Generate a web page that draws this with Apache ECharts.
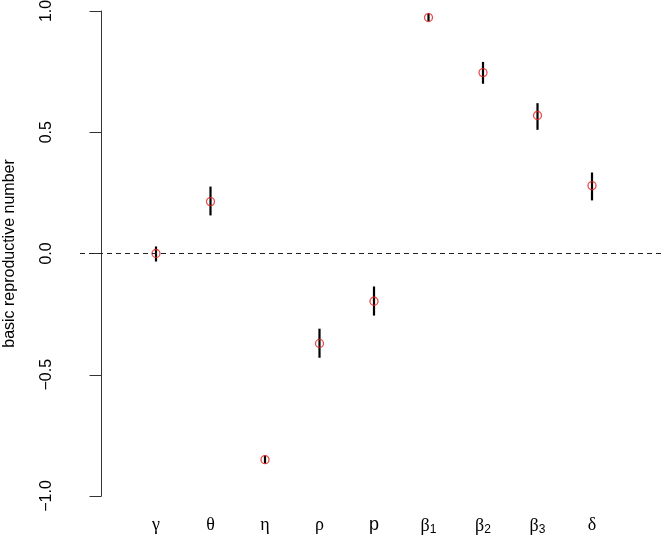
<!DOCTYPE html>
<html>
<head>
<meta charset="utf-8">
<script src="https://cdn.jsdelivr.net/npm/echarts@6/dist/echarts.min.js"></script>
<style>html,body{margin:0;padding:0;background:#fff;}</style>
</head>
<body>
<div id="main" style="width:664px;height:553px;"></div>
<script type="text/javascript">
// parameter labels and estimates
var params = ['γ', 'θ', 'η', 'ρ', 'p', 'β1', 'β2', 'β3', 'δ'];
var xPos = [1, 2, 3, 4, 5, 6, 7, 8, 9];
var estimate = [0.0, 0.214, -0.85, -0.371, -0.197, 0.973, 0.746, 0.569, 0.28];
var lower = [-0.033, 0.157, -0.866, -0.43, -0.256, 0.958, 0.70, 0.51, 0.219];
var upper = [0.029, 0.276, -0.833, -0.31, -0.136, 0.99, 0.79, 0.62, 0.334];

var points = xPos.map(function (x, i) { return [x, estimate[i]]; });
var bars = xPos.map(function (x, i) { return [x, lower[i], upper[i]]; });

var myChart = echarts.init(document.getElementById('main'));
var option = {
    animation: false,
    grid: { left: 80, right: 0, top: 11, bottom: 57, containLabel: false, outerBoundsMode: 'none' },
    xAxis: {
        type: 'value',
        min: -0.3945,
        max: 10.321,
        splitLine: { show: false },
        axisLine: { show: false },
        axisTick: { show: false },
        axisLabel: {
            customValues: xPos,
            margin: 20,
            formatter: function (v) {
                var s = params[Math.round(v) - 1];
                if (!s) return '';
                if (s.length > 1) return '{g|' + s[0] + '}{s|' + s.slice(1) + '}';
                if (s === 'p') return '{p|p}';
                return '{g|' + s + '}';
            },
            rich: {
                g: { fontFamily: 'Liberation Serif', fontSize: 18, color: '#000' },
                p: { fontFamily: 'Liberation Sans', fontSize: 18, color: '#000' },
                s: { fontFamily: 'Liberation Sans', fontSize: 12, color: '#000', padding: [8, 0, 0, 0] }
            }
        }
    },
    yAxis: {
        type: 'value',
        min: -1,
        max: 1,
        interval: 0.5,
        name: 'basic reproductive number',
        nameLocation: 'middle',
        nameRotate: 90,
        nameGap: 62,
        nameTextStyle: { fontFamily: 'Liberation Sans', fontSize: 16, color: '#000' },
        splitLine: { show: false },
        axisLine: { show: true, lineStyle: { color: '#333', width: 1 } },
        axisTick: { show: true, length: 12, lineStyle: { color: '#333' } },
        axisLabel: {
            rotate: 90,
            margin: 25,
            fontFamily: 'Liberation Sans',
            fontSize: 16,
            color: '#000',
            formatter: function (v) {
                return (v < 0 ? '\u2212' : '') + Math.abs(v).toFixed(1);
            }
        }
    },
    series: [
        {
            type: 'custom',
            data: bars,
            renderItem: function (params, api) {
                var p1 = api.coord([api.value(0), api.value(1)]);
                var p2 = api.coord([api.value(0), api.value(2)]);
                return {
                    type: 'line',
                    shape: { x1: p1[0], y1: p1[1], x2: p2[0], y2: p2[1] },
                    style: { stroke: '#000', lineWidth: 2.2 }
                };
            },
            markLine: {
                silent: true,
                symbol: 'none',
                label: { show: false },
                lineStyle: { color: '#222', type: [5, 4], width: 1 },
                data: [{ yAxis: 0 }]
            },
            z: 2
        },
        {
            type: 'scatter',
            data: points,
            symbol: 'circle',
            symbolSize: 8,
            itemStyle: { color: 'rgba(0,0,0,0)', borderColor: '#e0201b', borderWidth: 1.3 },
            z: 3
        }
    ]
};
myChart.setOption(option);
</script>
</body>
</html>
